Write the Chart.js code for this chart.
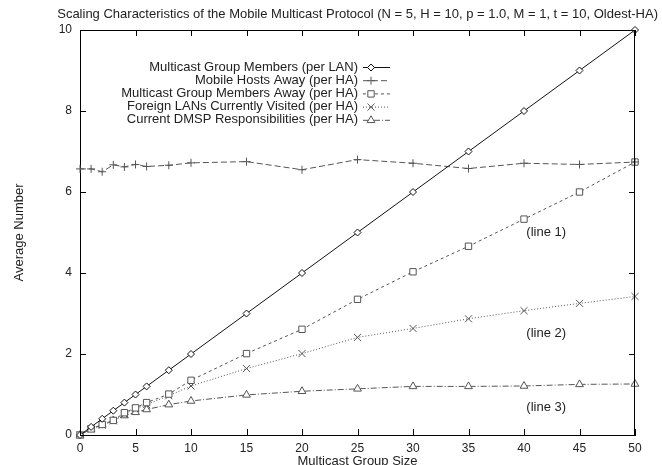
<!DOCTYPE html>
<html>
<head>
<meta charset="utf-8">
<script src="https://cdn.jsdelivr.net/npm/chart.js@4"></script>
<style>
  html, body { margin: 0; padding: 0; background: #fff; }
  canvas { display: block; }
</style>
</head>
<body>
<canvas id="myChart" width="662" height="465"></canvas>
<script>
const chartTitle = "Scaling Characteristics of the Mobile Multicast Protocol (N = 5, H = 10, p = 1.0, M = 1, t = 10, Oldest-HA)";
const groupSize = [0, 1, 2, 3, 4, 5, 6, 8, 10, 15, 20, 25, 30, 35, 40, 45, 50];
const membersPerLan = [0, 0.2, 0.4, 0.6, 0.8, 1.0, 1.2, 1.6, 2.0, 3.0, 4.0, 5.0, 6.0, 7.0, 8.0, 9.0, 10.0];
const hostsAway = [6.57, 6.57, 6.5, 6.67, 6.62, 6.68, 6.63, 6.66, 6.72, 6.75, 6.55, 6.8, 6.71, 6.58, 6.71, 6.68, 6.74];
const membersAway = [0, 0.15, 0.26, 0.36, 0.55, 0.67, 0.8, 1.01, 1.35, 2.01, 2.61, 3.35, 4.03, 4.66, 5.33, 6.0, 6.74];
const foreignLans = [0, 0.15, 0.24, 0.35, 0.51, 0.65, 0.75, 0.97, 1.21, 1.64, 2.01, 2.41, 2.63, 2.87, 3.07, 3.25, 3.42];
const dmspResp = [0, 0.15, 0.25, 0.36, 0.48, 0.56, 0.63, 0.75, 0.84, 0.99, 1.08, 1.14, 1.2, 1.2, 1.21, 1.25, 1.26];
const xTicks = [0, 5, 10, 15, 20, 25, 30, 35, 40, 45, 50];
const yTicks = [0, 2, 4, 6, 8, 10];
const lineNotes = [
  { text: "(line 1)", x: 42.0, y: 5.0 },
  { text: "(line 2)", x: 42.0, y: 2.5 },
  { text: "(line 3)", x: 42.0, y: 0.68 },
];

const font = "'Liberation Sans', Arial, sans-serif";

function pts(values) {
  return groupSize.map((x, i) => ({ x: x, y: values[i] }));
}

function series(label, values, color, dash, style, radius) {
  return {
    label: label,
    data: pts(values),
    borderColor: color,
    borderWidth: 1,
    borderDash: dash,
    pointStyle: style,
    pointRadius: radius,
    pointBorderColor: color,
    pointBackgroundColor: "#fff",
    pointBorderWidth: 1,
    tension: 0,
    clip: false,
  };
}

// gnuplot-like frame: inward ticks on all sides, right-aligned key, notes
const frame = {
  id: "frame",
  afterDraw(chart) {
    const ctx = chart.ctx;
    const a = chart.chartArea;
    const xs = chart.scales.x;
    const ys = chart.scales.y;
    ctx.save();
    ctx.strokeStyle = "#000";
    ctx.lineWidth = 1;
    ctx.beginPath();
    ctx.moveTo(a.left, a.top + 0.5);
    ctx.lineTo(a.right, a.top + 0.5);
    ctx.moveTo(a.right - 0.5, a.top);
    ctx.lineTo(a.right - 0.5, a.bottom);
    xTicks.forEach((v) => {
      const px = Math.round(xs.getPixelForValue(v)) + 0.5;
      ctx.moveTo(px, a.bottom);
      ctx.lineTo(px, a.bottom - 6);
      ctx.moveTo(px, a.top);
      ctx.lineTo(px, a.top + 6);
    });
    yTicks.forEach((v) => {
      const py = Math.round(ys.getPixelForValue(v)) + 0.5;
      ctx.moveTo(a.left, py);
      ctx.lineTo(a.left + 6, py);
      ctx.moveTo(a.right, py);
      ctx.lineTo(a.right - 6, py);
    });
    ctx.stroke();

    ctx.fillStyle = "#222";
    ctx.font = "13px " + font;
    ctx.textAlign = "right";
    ctx.textBaseline = "middle";
    ctx.fillText(chartTitle, 658, 14);

    ctx.textAlign = "center";
    lineNotes.forEach((n) => {
      ctx.fillText(n.text, xs.getPixelForValue(n.x), ys.getPixelForValue(n.y));
    });

    // key
    ctx.textAlign = "right";
    chart.data.datasets.forEach((ds, i) => {
      const y = 67 + i * 13.2;
      ctx.fillStyle = "#222";
      ctx.fillText(ds.label, 358, y);
      ctx.strokeStyle = ds.borderColor;
      ctx.setLineDash(ds.borderDash);
      ctx.beginPath();
      ctx.moveTo(363, y + 0.5);
      ctx.lineTo(390, y + 0.5);
      ctx.stroke();
      ctx.setLineDash([]);
      ctx.fillStyle = "#fff";
      Chart.helpers.drawPoint(ctx, { pointStyle: ds.pointStyle, radius: ds.pointRadius, borderWidth: 1 }, 371, y + 0.5);
    });
    ctx.restore();
  },
};

let charts = document.getElementById("myChart").getContext("2d");

let lineChart = new Chart(charts, {
  type: "line",
  data: {
    datasets: [
      series("Multicast Group Members (per LAN)", membersPerLan, "#111", [], "rectRot", 3.5),
      series("Mobile Hosts Away (per HA)", hostsAway, "#555", [6, 3], "cross", 4),
      series("Multicast Group Members Away (per HA)", membersAway, "#555", [3, 3], "rect", 4.5),
      series("Foreign LANs Currently Visited (per HA)", foreignLans, "#555", [1, 2], "crossRot", 5),
      series("Current DMSP Responsibilities (per HA)", dmspResp, "#555", [6, 2, 1, 2], "triangle", 4.5),
    ],
  },
  options: {
    responsive: false,
    animation: false,
    layout: {
      padding: { top: 30, right: 27, left: 0, bottom: 0 },
    },
    plugins: {
      legend: { display: false },
      tooltip: { enabled: false },
      title: { display: false },
    },
    scales: {
      x: {
        type: "linear",
        min: 0,
        max: 50,
        afterFit: (s) => { s.height = 30; },
        afterBuildTicks: (s) => { s.ticks = xTicks.map((v) => ({ value: v })); },
        grid: { display: false, drawTicks: false },
        border: { display: true, color: "#000", width: 1 },
        ticks: { padding: 6, color: "#222", font: { family: font, size: 12 }, maxRotation: 0 },
        title: {
          display: true,
          text: "Multicast Group Size",
          color: "#222",
          font: { family: font, size: 13 },
          padding: { top: 0, bottom: -4 },
        },
      },
      y: {
        min: 0,
        max: 10,
        afterFit: (s) => { s.width = 80; },
        afterBuildTicks: (s) => { s.ticks = yTicks.map((v) => ({ value: v })); },
        grid: { display: false, drawTicks: false },
        border: { display: true, color: "#000", width: 1 },
        ticks: { padding: 8, color: "#222", font: { family: font, size: 12 } },
        title: {
          display: true,
          text: "Average Number",
          color: "#222",
          font: { family: font, size: 13 },
          padding: { top: 12, bottom: 0 },
        },
      },
    },
  },
  plugins: [frame],
});
</script>
</body>
</html>
